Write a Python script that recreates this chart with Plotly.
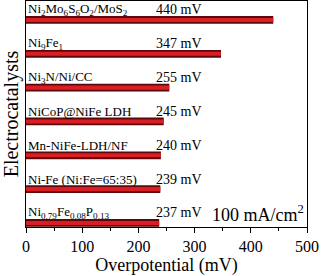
import plotly.graph_objects as go

categories = ["Ni0.79Fe0.08P0.13", "Ni-Fe (Ni:Fe=65:35)", "Mn-NiFe-LDH/NF",
              "NiCoP@NiFe LDH", "Ni3N/Ni/CC", "Ni9Fe1", "Ni2Mo6S6O2/MoS2"]
labels = ["Ni<sub>0.79</sub>Fe<sub>0.08</sub>P<sub>0.13</sub>", "Ni-Fe (Ni:Fe=65:35)",
          "Mn-NiFe-LDH/NF", "NiCoP@NiFe LDH", "Ni<sub>3</sub>N/Ni/CC",
          "Ni<sub>9</sub>Fe<sub>1</sub>",
          "Ni<sub>2</sub>Mo<sub>6</sub>S<sub>6</sub>O<sub>2</sub>/MoS<sub>2</sub>"]
values = [237, 239, 240, 245, 255, 347, 440]
value_text = [f"{v} mV" for v in values]
x_ticks = [0, 100, 200, 300, 400, 500]

FONT = "Liberation Serif"

fig = go.Figure()
fig.add_trace(go.Bar(x=values, y=categories, orientation="h", width=0.23,
                     marker=dict(color="#5e0709", line=dict(width=0)),
                     hoverinfo="skip"))
fig.add_trace(go.Bar(x=values, y=categories, orientation="h", width=0.12,
                     marker=dict(color="#d81f26", line=dict(width=0)),
                     hoverinfo="skip"))

ann = []
for c, lab, t in zip(categories, labels, value_text):
    ann.append(dict(x=0, y=c, xref="x", yref="y", text=lab, showarrow=False,
                    xanchor="left", yanchor="middle", xshift=0, yshift=10,
                    font=dict(family=FONT, size=13, color="black")))
    ann.append(dict(x=228, y=c, xref="x", yref="y", text=t, showarrow=False,
                    xanchor="left", yanchor="middle", yshift=10,
                    font=dict(family=FONT, size=14, color="black")))
ann.append(dict(x=0.995, y=categories[0], xref="paper", yref="y",
                text="100 mA/cm<sup>2</sup>", showarrow=False,
                xanchor="right", yanchor="middle", yshift=9,
                font=dict(family=FONT, size=18, color="black")))

fig.update_layout(
    width=323, height=276,
    margin=dict(l=26, r=16, t=1, b=49),
    barmode="overlay",
    showlegend=False,
    plot_bgcolor="white", paper_bgcolor="white",
    annotations=ann,
    font=dict(family=FONT, color="black"),
)
fig.update_xaxes(range=[0, 500], tickvals=x_ticks, ticks="outside", ticklen=5,
                 tickcolor="black", showline=True, linecolor="black", linewidth=1,
                 mirror=True, showgrid=False, zeroline=False,
                 minor=dict(dtick=50, ticks="outside", ticklen=3, tickcolor="black"),
                 tickfont=dict(family=FONT, size=16),
                 title=dict(text="Overpotential (mV)", font=dict(family=FONT, size=18),
                            standoff=0))
fig.update_yaxes(range=[-0.12, 6.56], showticklabels=False, ticks="",
                 showline=True, linecolor="black", linewidth=1, mirror=True,
                 showgrid=False, zeroline=False,
                 title=dict(text="Electrocatalysts", font=dict(family=FONT, size=20),
                            standoff=2))

fig.write_html("out.html", config={"displayModeBar": False},
               post_script="document.body.style.margin='0';document.body.style.overflow='hidden';")
